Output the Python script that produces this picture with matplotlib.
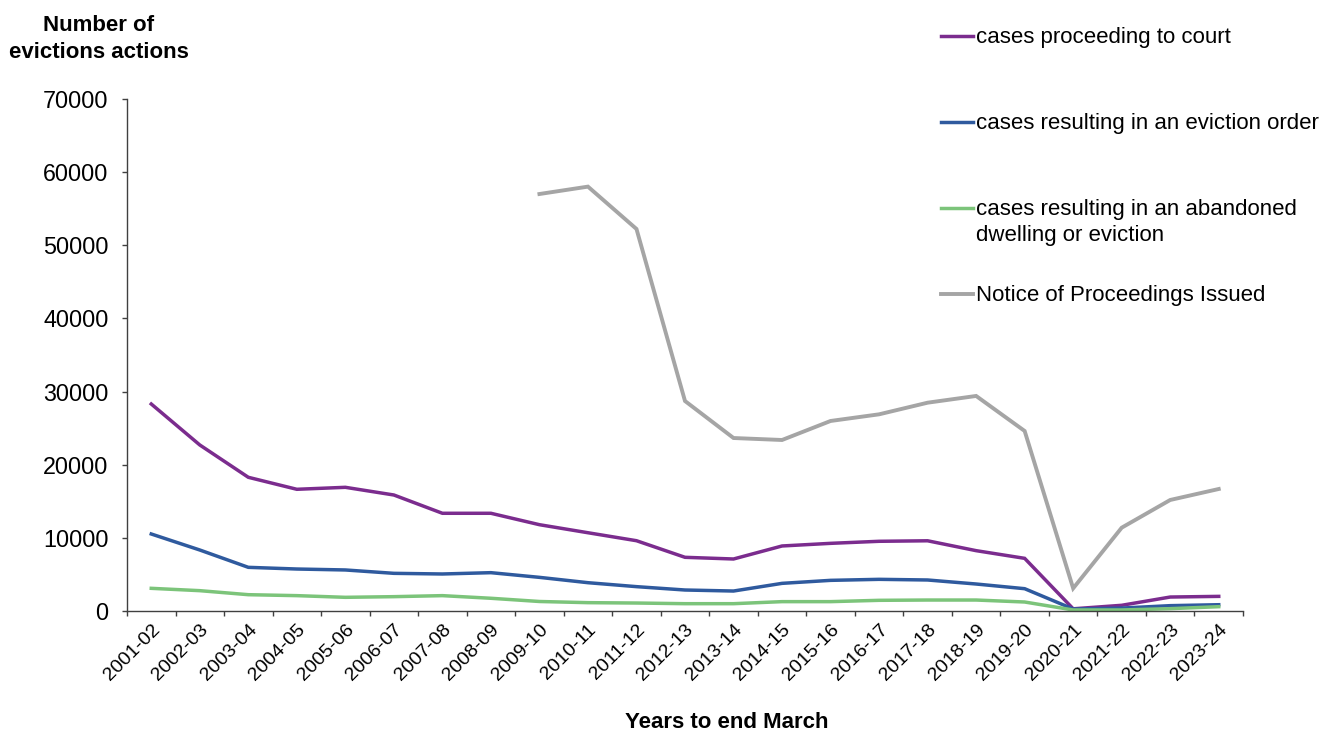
import matplotlib
matplotlib.use("Agg")
import matplotlib.pyplot as plt
from matplotlib.lines import Line2D
from matplotlib.transforms import ScaledTranslation
import numpy as np

plt.rcParams['font.family'] = ['Liberation Sans', 'DejaVu Sans']

years = ["2001-02", "2002-03", "2003-04", "2004-05", "2005-06", "2006-07",
         "2007-08", "2008-09", "2009-10", "2010-11", "2011-12", "2012-13",
         "2013-14", "2014-15", "2015-16", "2016-17", "2017-18", "2018-19",
         "2019-20", "2020-21", "2021-22", "2022-23", "2023-24"]

court = [28300, 22700, 18280, 16640, 16910, 15860, 13360, 13360, 11800,
         10700, 9610, 7340, 7110, 8890, 9250, 9530, 9600, 8250, 7200,
         300, 780, 1910, 2000]

eviction_order = [10530, 8340, 5970, 5740, 5610, 5150, 5060, 5240, 4600,
                  3870, 3330, 2870, 2730, 3780, 4190, 4330, 4240, 3690,
                  3050, 270, 400, 730, 860]

abandoned = [3100, 2780, 2230, 2100, 1870, 1960, 2100, 1740, 1300, 1140,
             1090, 1000, 1000, 1280, 1280, 1460, 1500, 1500, 1230, 140,
             140, 320, 590]

notices = [None] * 8 + [57010, 58020, 52230, 28710, 23650, 23380, 25980,
                        26890, 28480, 29400, 24610, 3100, 11390, 15180, 16680]

series = [
    ("cases proceeding to court", court, "#7B2C8E", 2.5),
    ("cases resulting in an eviction order", eviction_order, "#2F5A9E", 2.5),
    ("cases resulting in an abandoned\ndwelling or eviction", abandoned, "#7CC47A", 2.5),
    ("Notice of Proceedings Issued", notices, "#A5A5A5", 2.8),
]

W, H = 1335, 733
fig = plt.figure(figsize=(W / 100, H / 100), dpi=100)
ax = fig.add_axes([127 / W, 1 - 611 / H, (1243 - 127) / W, (611 - 99) / H])

x = np.arange(len(years))
for label, vals, color, lw in series:
    y = np.array([np.nan if v is None else v for v in vals], dtype=float)
    ax.plot(x, y, color=color, lw=lw, solid_joinstyle='miter')

ax.set_xlim(-0.5, len(years) - 0.5)
ax.set_ylim(0, 70000)
ax.set_yticks(np.arange(0, 70001, 10000))
ax.set_yticklabels([str(v) for v in range(0, 70001, 10000)], fontsize=16.8)

ax.set_xticks(x)
ax.set_xticklabels(years, rotation=45, ha='right', va='top',
                   rotation_mode='anchor', fontsize=14)
shift = ScaledTranslation(6 / 100, 0, fig.dpi_scale_trans)
for lbl in ax.get_xticklabels():
    lbl.set_transform(lbl.get_transform() + shift)
ax.set_xticks(np.arange(-0.5, len(years), 1), minor=True)
ax.tick_params(axis='x', which='major', length=0, pad=7.5)
ax.tick_params(axis='x', which='minor', length=3.8, color='#404040', width=1)
ax.tick_params(axis='y', length=3.8, color='#404040', width=1, pad=9.6)

for side in ('top', 'right'):
    ax.spines[side].set_visible(False)
for side in ('left', 'bottom'):
    ax.spines[side].set_color('#404040')
    ax.spines[side].set_linewidth(1)

fig.text(99 / W, 1 - 39 / H, "Number of\nevictions actions", ha='center', va='center',
         fontsize=16, fontweight='bold', linespacing=1.35)
fig.text(727 / W, 1 - 722 / H, "Years to end March", ha='center', va='center',
         fontsize=16, fontweight='bold')

# Legend drawn at fixed positions on the right-hand side
legend_y = [36, 122, 208, 294]
for (label, vals, color, lw), ly in zip(series, legend_y):
    fig.add_artist(Line2D([941 / W, 973 / W], [1 - ly / H, 1 - ly / H],
                          color=color, lw=lw, transform=fig.transFigure))
    fig.text(976 / W, 1 - (ly - 9) / H, label, ha='left', va='top',
             fontsize=16, linespacing=1.3)

fig.savefig("out.png", dpi=100)
